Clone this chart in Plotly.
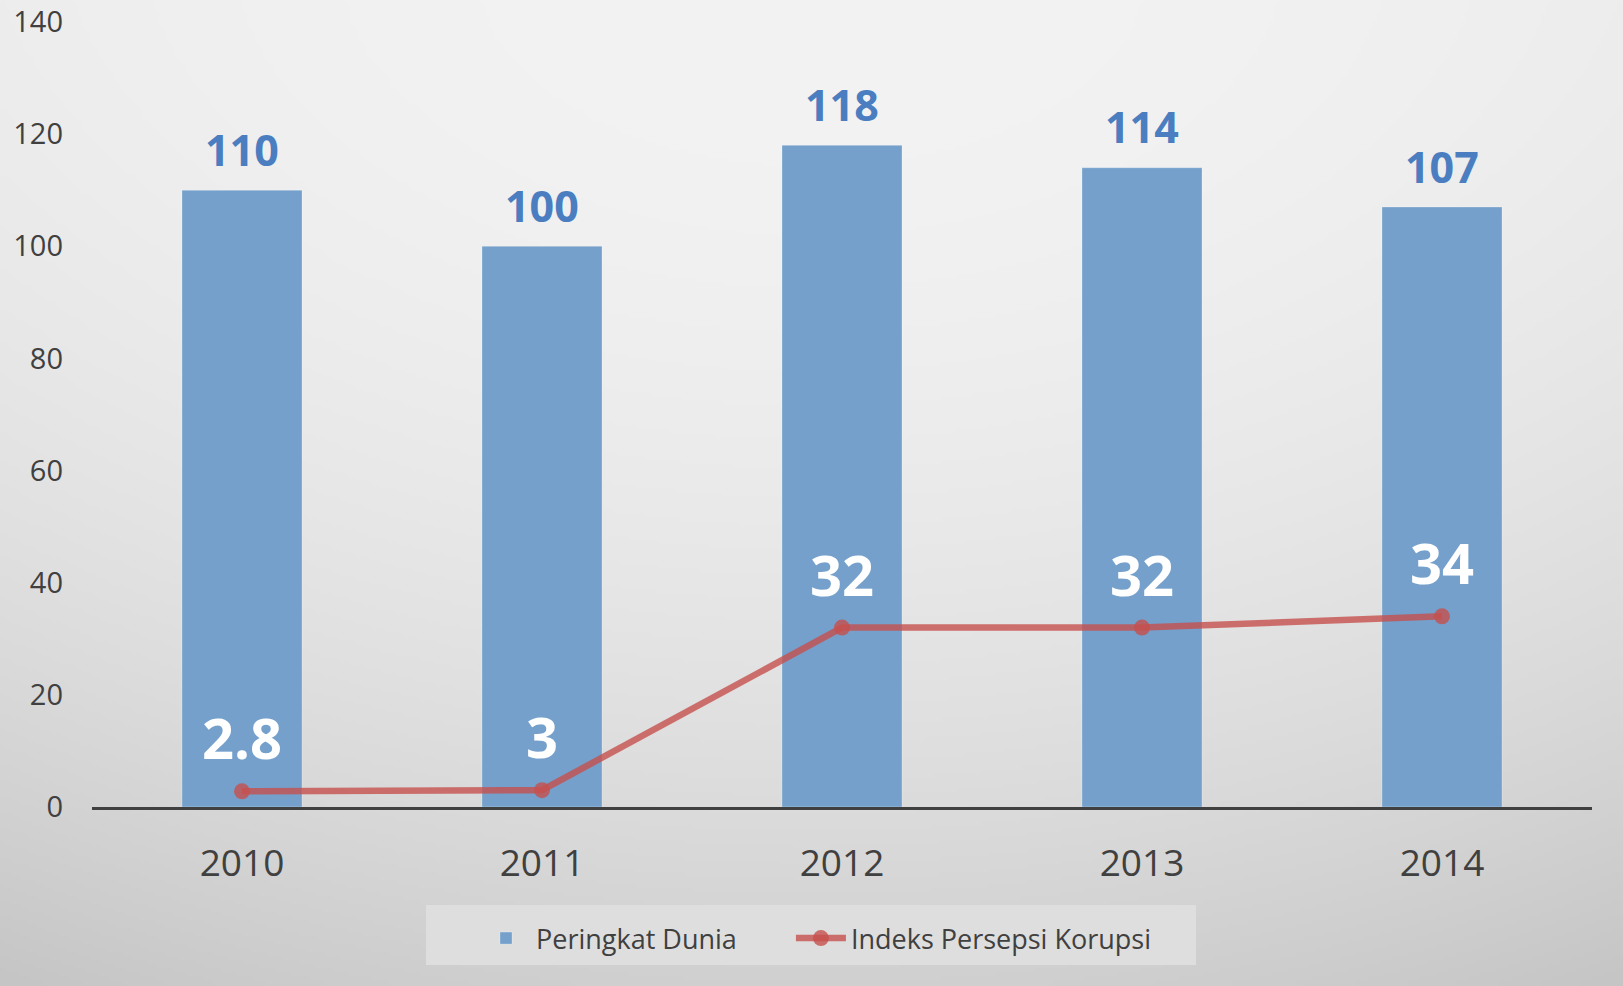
import base64
import struct
import zlib

import numpy as np
import plotly.graph_objects as go

years = ['2010', '2011', '2012', '2013', '2014']
peringkat = [110, 100, 118, 114, 107]
indeks = [2.8, 3, 32, 32, 34]
indeks_text = ['2.8', '3', '32', '32', '34']
y_ticks = [0, 20, 40, 60, 80, 100, 120, 140]

W, H = 1623, 986
ML, MR, MT, MB = 92, 31, 22, 179
PW, PH = W - ML - MR, H - MT - MB


def px_x(px):
    return (px - ML) / PW


def px_y(py):
    return (H - MB - py) / PH


def png_uri(arr):
    h, w = arr.shape[:2]
    raw = b''.join(b'\x00' + arr[i].tobytes() for i in range(h))

    def chunk(tag, data):
        c = struct.pack('>I', len(data)) + tag + data
        return c + struct.pack('>I', zlib.crc32(tag + data) & 0xffffffff)

    png = b'\x89PNG\r\n\x1a\n'
    png += chunk(b'IHDR', struct.pack('>IIBBBBB', w, h, 8, 2, 0, 0, 0))
    png += chunk(b'IDAT', zlib.compress(raw, 9))
    png += chunk(b'IEND', b'')
    return 'data:image/png;base64,' + base64.b64encode(png).decode()


# soft radial grey background like the slide
gw, gh = 406, 247
xx, yy = np.meshgrid(np.linspace(0, 1, gw), np.linspace(0, 1, gh))
dx2 = (xx - 0.5) ** 2
g = 243 - 24 * dx2 - 35 * yy ** 2 - 20 * dx2 * yy
g = np.clip(g, 0, 255).astype(np.uint8)
bg = np.stack([g, g, g], axis=-1)

fig = go.Figure()
fig.add_trace(go.Bar(
    x=years, y=peringkat, name='Peringkat Dunia' + '\u00a0' * 7,
    marker=dict(color='#74A0CB', line=dict(color='rgba(255,255,255,0.25)', width=1)),
    hoverinfo='skip'))
fig.add_trace(go.Scatter(
    x=years, y=indeks, name='Indeks Persepsi Korupsi', mode='lines+markers',
    line=dict(color='rgba(197,80,77,0.8)', width=6.5),
    marker=dict(color='rgba(197,80,77,0.8)', size=16),
    hoverinfo='skip'))

# data labels (x given as category index)
for i, v in enumerate(peringkat):
    fig.add_annotation(x=i, y=v, text='<b>%d</b>' % v, showarrow=False,
                       yanchor='middle', yshift=41,
                       font=dict(family='Open Sans', size=43, color='#4A7EC0'))
for i, (v, t) in enumerate(zip(indeks, indeks_text)):
    fig.add_annotation(x=i, y=v, text='<b>%s</b>' % t, showarrow=False,
                       yanchor='middle', yshift=54,
                       font=dict(family='Open Sans', size=56, color='white'))

fig.add_layout_image(dict(
    source=png_uri(bg), xref='paper', yref='paper',
    x=-ML / PW, y=1 + MT / PH, sizex=W / PW, sizey=H / PH,
    xanchor='left', yanchor='top', sizing='stretch', layer='below'))

# legend box
fig.add_shape(type='rect', xref='paper', yref='paper',
              x0=px_x(426), x1=px_x(1196), y0=px_y(965), y1=px_y(905),
              fillcolor='#dedede', line=dict(width=0), layer='below')

fig.update_layout(
    width=W, height=H,
    margin=dict(l=ML, r=MR, t=MT, b=MB),
    paper_bgcolor='#dcdcdc', plot_bgcolor='rgba(0,0,0,0)',
    bargap=0.6,
    font=dict(family='Open Sans', color='#404040'),
    showlegend=True,
    legend=dict(orientation='h', x=px_x(476), xanchor='left', y=px_y(914), yanchor='top',
                bgcolor='rgba(0,0,0,0)', font=dict(size=27, color='#404040'),
                itemwidth=50),
    xaxis=dict(type='category', range=[-0.5, 4.5], showgrid=False, showline=True,
               linecolor='#404040', linewidth=3, automargin=False,
               tickfont=dict(size=37, color='#404040'),
               ticklabelstandoff=22, fixedrange=True),
    yaxis=dict(range=[0, 140], tickvals=y_ticks, showgrid=False, zeroline=False,
               showline=False, automargin=False,
               tickfont=dict(size=29, color='#404040'),
               ticklabelstandoff=28, fixedrange=True),
)

fig.write_html('out.html', config={'displayModeBar': False},
               post_script="document.body.style.margin='0';")
